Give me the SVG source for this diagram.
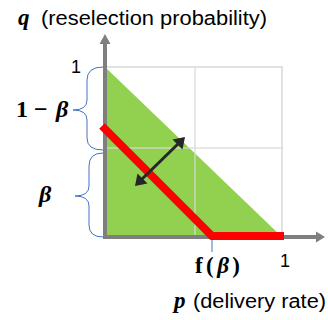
<svg xmlns="http://www.w3.org/2000/svg" width="328" height="320" viewBox="0 0 328 320">
<style>
.sans{font-family:"Liberation Sans","Open Sans",sans-serif;fill:#000}
.math{font-family:"Liberation Serif","DejaVu Serif",serif;font-weight:bold;fill:#000}
.it{font-style:italic}
.grid{stroke:#D9D9D9;stroke-width:1.5;fill:none}
.brace{stroke:#4472C4;stroke-width:1;fill:none}
.axis{stroke:#7F7F7F;stroke-width:4;fill:none}
</style>
<rect width="328" height="320" fill="#fff"/>
<g id="area">
<polygon points="105,67 105,237 282,237" fill="#92D050"/>
</g>
<g id="grid">
<line class="grid" x1="105" y1="67" x2="283" y2="67"/>
<line class="grid" x1="105" y1="148" x2="283" y2="148" opacity="0.8"/>
<line class="grid" x1="195" y1="67" x2="195" y2="236" opacity="0.8"/>
<line class="grid" x1="282" y1="67" x2="282" y2="236"/>
</g>
<g id="braces">
<path class="brace" d="M103,67 Q87,67 87,80 L87,100 Q87,110 73,110 Q87,110 87,120 L87,138 Q87,150 103,150"/>
<path class="brace" d="M103,153 Q89,153 89,166 L89,186 Q89,196 75,196 Q89,196 89,206 L89,225 Q89,237 103,237"/>
<line class="brace" x1="212" y1="238" x2="212" y2="252"/>
</g>
<g id="axes">
<line class="axis" x1="105" y1="239" x2="105" y2="43"/>
<polygon points="99.5,44 110.5,44 105,34" fill="#7F7F7F"/>
<line class="axis" x1="103" y1="237" x2="317" y2="237"/>
<polygon points="316,231.5 316,242.5 325,237" fill="#7F7F7F"/>
</g>
<g id="connectors">
<polyline points="102,126 212,236 284,236" fill="none" stroke="#FF0000" stroke-width="8" stroke-linejoin="miter"/>
<line x1="140" y1="181" x2="180" y2="142" stroke="#262626" stroke-width="3"/>
<polygon points="135,186 137.5,173.5 147.5,183.5" fill="#262626"/>
<polygon points="185,137 182.5,149.5 172.5,139.5" fill="#262626"/>
</g>
<g id="labels">
<text class="math it" x="18" y="25" font-size="23">q</text>
<text class="sans" x="41" y="25" font-size="20" textLength="226" lengthAdjust="spacingAndGlyphs">(reselection probability)</text>
<text class="sans" x="76" y="73" font-size="18" text-anchor="middle">1</text>
<text class="math" x="16" y="117" font-size="24">1</text>
<text class="math" x="34" y="117" font-size="24">−</text>
<text class="math it" x="56" y="117" font-size="24">β</text>
<text class="math it" x="39" y="202" font-size="24">β</text>
<text class="math" x="195" y="273" font-size="23" textLength="45">f(<tspan class="it">β</tspan>)</text>
<text class="sans" x="285" y="267" font-size="18" text-anchor="middle">1</text>
<text class="math it" x="174" y="308" font-size="23">p</text>
<text class="sans" x="193" y="308" font-size="20" textLength="133" lengthAdjust="spacingAndGlyphs">(delivery rate)</text>
</g>
</svg>
